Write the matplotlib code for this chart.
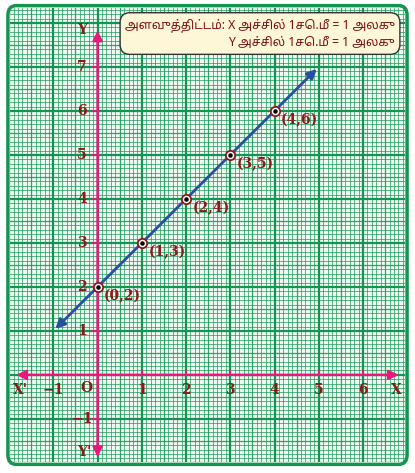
import numpy as np
import matplotlib
matplotlib.use("Agg")
import matplotlib.pyplot as plt
from matplotlib.patches import FancyBboxPatch

pts_x = [0, 1, 2, 3, 4]
pts_y = [2, 3, 4, 5, 6]
pt_labels = ["(0,2)", "(1,3)", "(2,4)", "(3,5)", "(4,6)"]
line_x = [-1, 5]
line_y = [1, 7]
xticks = [-1, 1, 2, 3, 4, 5, 6]
yticks = [-1, 1, 2, 3, 4, 5, 6, 7]
scale_text = "அளவுத்திட்டம்: X அச்சில் 1செ.மீ = 1 அலகு\nY அச்சில் 1செ.மீ = 1 அலகு"

W, H = 415, 473
fig = plt.figure(figsize=(W/100, H/100), dpi=100)
L, R, T, B = 10, 405, 8, 462
ax = fig.add_axes([L/W, 1-B/H, (R-L)/W, (B-T)/H])
x0, x1, y0, y1 = -1.98, 6.95, -1.98, 8.34
ax.set_xlim(x0, x1); ax.set_ylim(y0, y1)
ax.axis('off')
ax.add_patch(plt.Rectangle((x0, y0), x1-x0, y1-y0, color='#eef9f2', zorder=0))
g = '#139450'
for v in np.arange(-2, 7.01, 0.1):
    major = abs(v - round(v)) < 1e-6
    half = abs(v*2 - round(v*2)) < 1e-6
    ax.axvline(v, color=g, lw=1.6 if major else (0.9 if half else 0.55), alpha=1 if major else 0.85, zorder=1)
for v in np.arange(-2, 8.41, 0.1):
    major = abs(v - round(v)) < 1e-6
    half = abs(v*2 - round(v*2)) < 1e-6
    ax.axhline(v, color=g, lw=1.6 if major else (0.9 if half else 0.55), alpha=1 if major else 0.85, zorder=1)
border = FancyBboxPatch((L/W, 1-B/H), (R-L)/W, (B-T)/H, boxstyle="round,pad=0.005,rounding_size=0.02",
                        transform=fig.transFigure, fill=False, ec=g, lw=2.5)
fig.patches.append(border)

mag = '#e8197d'
ax.annotate('', xy=(x0+0.08, 0), xytext=(x1-0.08, 0), arrowprops=dict(arrowstyle='<|-|>', color=mag, lw=1.8, mutation_scale=14), zorder=3)
ax.annotate('', xy=(0, y0+0.05), xytext=(0, y1-0.45), arrowprops=dict(arrowstyle='<|-|>', color=mag, lw=1.8, mutation_scale=14), zorder=3)
for t in xticks:
    ax.plot([t, t], [0, 0.12], color=mag, lw=1.2, zorder=3)
for t in yticks:
    ax.plot([0, -0.12], [t, t], color=mag, lw=1.2, zorder=3)

txt = '#8b1a1a'
fk = dict(family='DejaVu Serif', fontweight='bold', color=txt, fontsize=10, zorder=6)
for t in xticks:
    ax.text(t, -0.35, ('−1' if t < 0 else str(t)), ha='center', va='center', **fk)
for t in yticks:
    ax.text(-0.35, t, ('−1' if t < 0 else str(t)), ha='center', va='center', **fk)
ax.text(-0.25, -0.3, 'O', ha='center', va='center', **fk)
ax.text(-1.75, -0.35, "X'", ha='center', va='center', **fk)
ax.text(6.75, -0.35, "X", ha='center', va='center', **fk)
ax.text(-0.35, 7.85, "Y", ha='center', va='center', **fk)
ax.text(-0.3, -1.75, "Y'", ha='center', va='center', **fk)

ax.annotate('', xy=(line_x[0], line_y[0]), xytext=(line_x[1], line_y[1]),
            arrowprops=dict(arrowstyle='<|-|>', color='#2a4fa0', lw=2, mutation_scale=14), zorder=4)
ax.scatter(pts_x, pts_y, s=45, facecolor='white', edgecolor='#8b1a1a', lw=1.3, zorder=5)
ax.scatter(pts_x, pts_y, s=5, color='black', zorder=6)
for x, y, s in zip(pts_x, pts_y, pt_labels):
    ax.text(x+0.15, y-0.2, s, ha='left', va='center', **fk)

fig.text(395/W, 1-34/H, scale_text, ha='right', va='center', multialignment='right',
         fontsize=8.8, color='#7a1010', family=['Noto Sans Tamil', 'Lohit Tamil', 'DejaVu Serif'], fontweight='bold',
         linespacing=1.4,
         bbox=dict(boxstyle='round,pad=0.4,rounding_size=0.8', fc='#fdf7d8', ec='#333333', lw=1), zorder=10)
fig.savefig('out.png', dpi=100)
